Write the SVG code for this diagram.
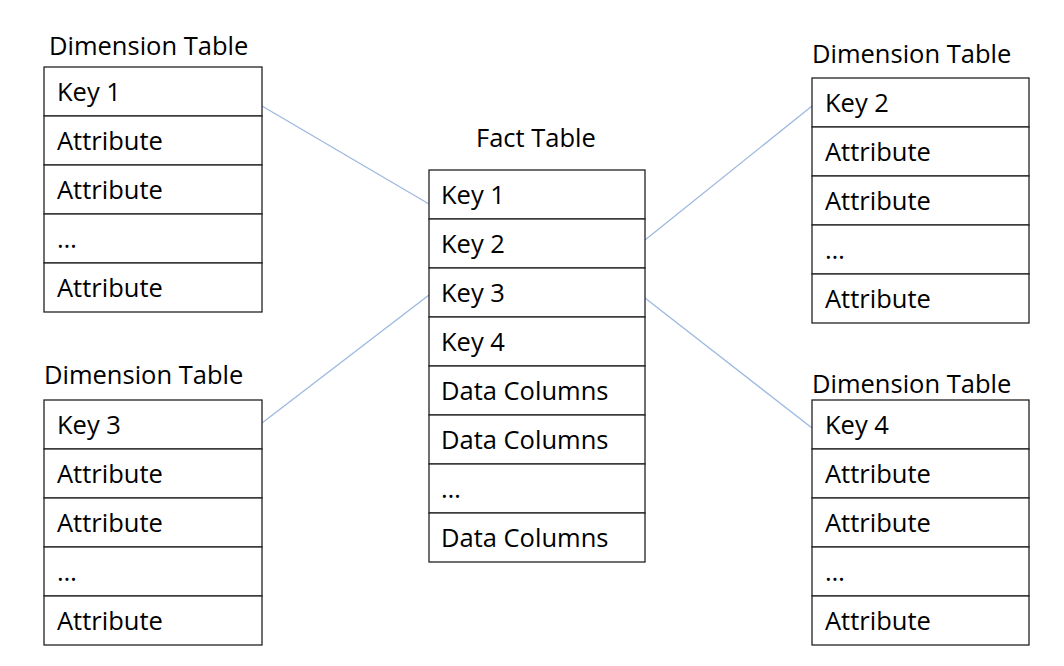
<svg xmlns="http://www.w3.org/2000/svg" width="1064" height="666" viewBox="0 0 1064 666">
<style>
rect{fill:#fff;stroke:#222;stroke-width:1.3}
text{font-family:"Open Sans","Liberation Sans",sans-serif;font-size:25.5px;fill:#000}
.c line{stroke:#9db9e0;stroke-width:1.3}
</style>
<rect x="0" y="0" width="1064" height="666" style="stroke:none"/>
<g class="c">
<line x1="262" y1="106" x2="429" y2="204"/>
<line x1="262" y1="423" x2="429" y2="295"/>
<line x1="645" y1="240" x2="812" y2="106"/>
<line x1="645" y1="298" x2="812" y2="428"/>
</g>
<g id="dim1">
<text x="49" y="55">Dimension Table</text>
<rect x="44" y="67" width="218" height="49"/><rect x="44" y="116" width="218" height="49"/><rect x="44" y="165" width="218" height="49"/><rect x="44" y="214" width="218" height="49"/><rect x="44" y="263" width="218" height="49"/>
<text x="57" y="101">Key 1</text><text x="57" y="150">Attribute</text><text x="57" y="199">Attribute</text><text x="57" y="248">…</text><text x="57" y="297">Attribute</text>
</g>
<g id="dim3">
<text x="44" y="384">Dimension Table</text>
<rect x="44" y="400" width="218" height="49"/><rect x="44" y="449" width="218" height="49"/><rect x="44" y="498" width="218" height="49"/><rect x="44" y="547" width="218" height="49"/><rect x="44" y="596" width="218" height="49"/>
<text x="57" y="434">Key 3</text><text x="57" y="483">Attribute</text><text x="57" y="532">Attribute</text><text x="57" y="581">…</text><text x="57" y="630">Attribute</text>
</g>
<g id="fact">
<text x="476" y="147">Fact Table</text>
<rect x="429" y="170" width="216" height="49"/><rect x="429" y="219" width="216" height="49"/><rect x="429" y="268" width="216" height="49"/><rect x="429" y="317" width="216" height="49"/><rect x="429" y="366" width="216" height="49"/><rect x="429" y="415" width="216" height="49"/><rect x="429" y="464" width="216" height="49"/><rect x="429" y="513" width="216" height="49"/>
<text x="441" y="204">Key 1</text><text x="441" y="253">Key 2</text><text x="441" y="302">Key 3</text><text x="441" y="351">Key 4</text><text x="441" y="400">Data Columns</text><text x="441" y="449">Data Columns</text><text x="441" y="498">…</text><text x="441" y="547">Data Columns</text>
</g>
<g id="dim2">
<text x="812" y="63">Dimension Table</text>
<rect x="812" y="78" width="217" height="49"/><rect x="812" y="127" width="217" height="49"/><rect x="812" y="176" width="217" height="49"/><rect x="812" y="225" width="217" height="49"/><rect x="812" y="274" width="217" height="49"/>
<text x="825" y="112">Key 2</text><text x="825" y="161">Attribute</text><text x="825" y="210">Attribute</text><text x="825" y="259">…</text><text x="825" y="308">Attribute</text>
</g>
<g id="dim4">
<text x="812" y="393">Dimension Table</text>
<rect x="812" y="400" width="217" height="49"/><rect x="812" y="449" width="217" height="49"/><rect x="812" y="498" width="217" height="49"/><rect x="812" y="547" width="217" height="49"/><rect x="812" y="596" width="217" height="49"/>
<text x="825" y="434">Key 4</text><text x="825" y="483">Attribute</text><text x="825" y="532">Attribute</text><text x="825" y="581">…</text><text x="825" y="630">Attribute</text>
</g>
</svg>
